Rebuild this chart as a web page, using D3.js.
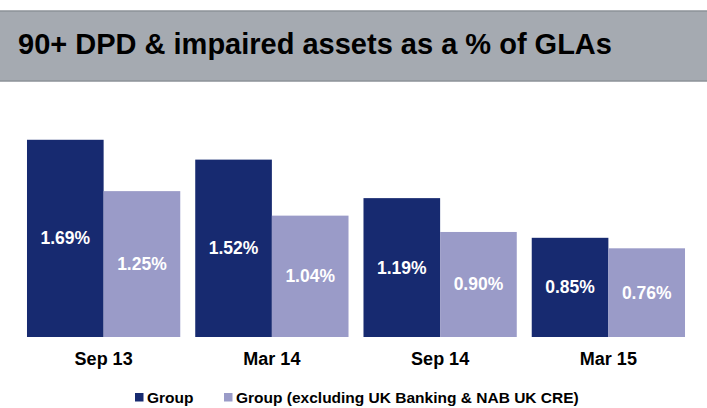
<!DOCTYPE html>
<html>
<head>
<meta charset="utf-8">
<script src="https://cdn.jsdelivr.net/npm/d3@7"></script>
<style>
  body { margin: 0; background: #fff; }
  svg { display: block; font-family: "Liberation Sans", Arial, sans-serif; }
</style>
</head>
<body>
<svg id="chart" width="707" height="408"></svg>
<script>
const periods = ["Sep 13", "Mar 14", "Sep 14", "Mar 15"];
const seriesNames = ["Group", "Group (excluding UK Banking & NAB UK CRE)"];
const groupVals = [1.69, 1.52, 1.19, 0.85];
const exclVals = [1.25, 1.04, 0.90, 0.76];
const seriesColors = ["#172a70", "#9a9bc8"];

const svg = d3.select("#chart");

// title band
svg.append("rect")
  .attr("x", 0).attr("y", 11)
  .attr("width", 707).attr("height", 70)
  .attr("fill", "#a5aab1");
svg.append("line").attr("x1", 0).attr("x2", 707).attr("y1", 11).attr("y2", 11)
  .attr("stroke", "#8d9299").attr("stroke-width", 1.5);
svg.append("line").attr("x1", 0).attr("x2", 707).attr("y1", 81).attr("y2", 81)
  .attr("stroke", "#8d9299").attr("stroke-width", 1.5);
svg.append("text")
  .attr("x", 18).attr("y", 54)
  .attr("font-size", 29)
  .attr("font-weight", "bold")
  .attr("fill", "#000")
  .text("90+ DPD & impaired assets as a % of GLAs");

const baseY = 337;
const y = d3.scaleLinear().domain([0, 2]).range([baseY, baseY - 233.4]);

const x = d3.scaleBand()
  .domain(periods)
  .range([19.5, 692.5])
  .paddingInner(0.089)
  .paddingOuter(0.0445);

const x1 = d3.scaleBand()
  .domain([0, 1])
  .range([0, x.bandwidth()]);

const rows = periods.map((p, i) => ({ period: p, vals: [groupVals[i], exclVals[i]] }));

const g = svg.append("g");
const grp = g.selectAll("g.period")
  .data(rows)
  .enter().append("g")
  .attr("class", "period")
  .attr("transform", d => `translate(${x(d.period)},0)`);

const bars = grp.selectAll("g.bar")
  .data(d => d.vals.map((v, k) => ({ v, k })))
  .enter().append("g")
  .attr("class", "bar");

bars.append("rect")
  .attr("x", d => x1(d.k))
  .attr("y", d => y(d.v))
  .attr("width", x1.bandwidth())
  .attr("height", d => baseY - y(d.v))
  .attr("fill", d => seriesColors[d.k]);

bars.append("text")
  .attr("x", d => x1(d.k) + x1.bandwidth() / 2)
  .attr("y", d => (y(d.v) + baseY) / 2 + 6)
  .attr("text-anchor", "middle")
  .attr("font-size", 17.5)
  .attr("font-weight", "bold")
  .attr("fill", "#fff")
  .text(d => d.v.toFixed(2) + "%");

// category axis labels
svg.append("g")
  .attr("transform", `translate(0,${baseY})`)
  .call(d3.axisBottom(x).tickSize(0).tickPadding(0))
  .call(a => a.select(".domain").remove())
  .call(a => a.selectAll("text")
    .attr("y", 28)
    .attr("dy", null)
    .attr("font-size", 18)
    .attr("font-weight", "bold")
    .attr("font-family", "Liberation Sans, Arial, sans-serif")
    .attr("fill", "#000"));

// legend
const legendX = [135, 224];
const legend = svg.append("g").selectAll("g")
  .data(seriesNames)
  .enter().append("g")
  .attr("transform", (d, i) => `translate(${legendX[i]},393)`);
legend.append("rect")
  .attr("width", 8.5).attr("height", 8.5)
  .attr("fill", (d, i) => seriesColors[i]);
legend.append("text")
  .attr("x", 12).attr("y", 10)
  .attr("font-size", 15.5)
  .attr("font-weight", "bold")
  .attr("fill", "#000")
  .text(d => d);
</script>
</body>
</html>
